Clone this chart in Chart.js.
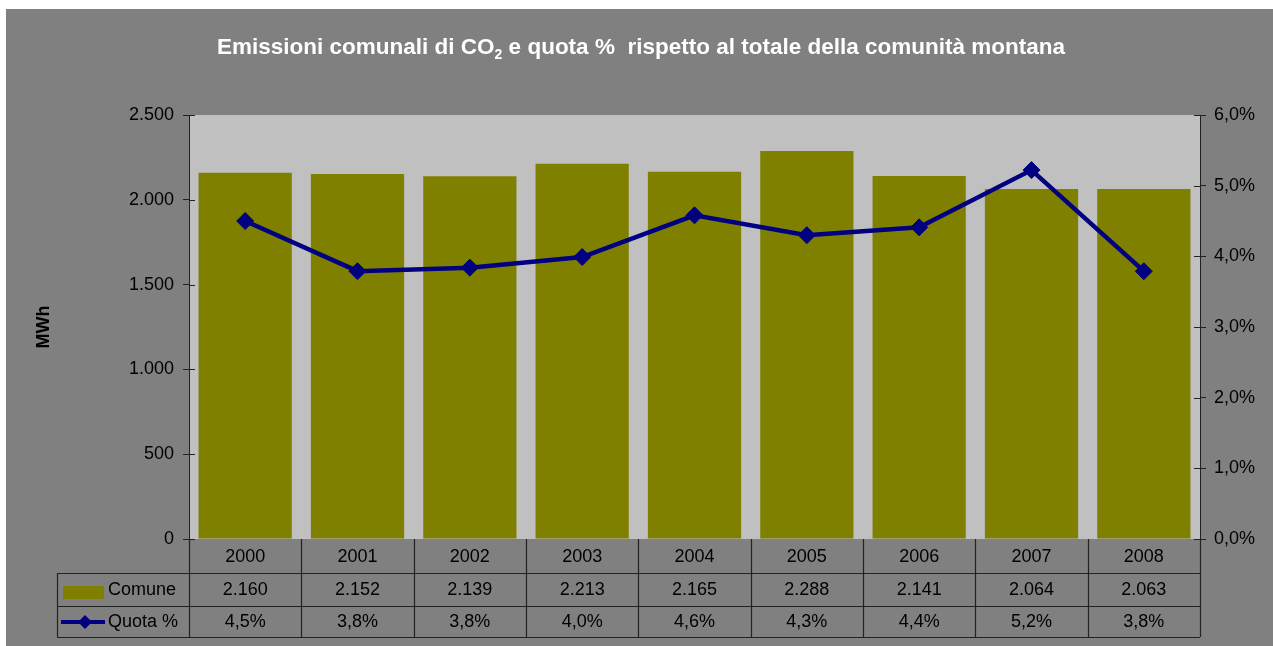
<!DOCTYPE html>
<html>
<head>
<meta charset="utf-8">
<script src="https://cdn.jsdelivr.net/npm/chart.js@4"></script>
<style>
  html, body { margin: 0; padding: 0; background: #fff; }
  #wrap { position: absolute; left: 6px; top: 9px; width: 1267px; height: 637px; }
  canvas { display: block; background: #808080; }
</style>
</head>
<body>
<div id="wrap"><canvas id="chart" width="1267" height="637"></canvas></div>
<script>
const years = ["2000", "2001", "2002", "2003", "2004", "2005", "2006", "2007", "2008"];
const comune = [2160, 2152, 2139, 2213, 2165, 2288, 2141, 2064, 2063];
const quota = [4.50, 3.79, 3.84, 3.99, 4.58, 4.30, 4.41, 5.22, 3.79];
const mwhTicks = [0, 500, 1000, 1500, 2000, 2500];
const pctTicks = [0, 1, 2, 3, 4, 5, 6];

const FONT = "'Liberation Sans', Arial, sans-serif";
const OLIVE = "#808000";
const NAVY = "#000080";
const LINE = "#222";

function fmtNum(v) {
    return String(v).replace(/\B(?=(\d{3})+(?!\d))/g, ".");
}
function fmtPct(v) {
    return v.toFixed(1).replace(".", ",") + "%";
}

const backdrop = {
    id: "backdrop",
    beforeDraw(chart) {
        const {ctx, chartArea: a} = chart;
        ctx.save();
        ctx.fillStyle = "#c0c0c0";
        ctx.fillRect(a.left, a.top, a.right - a.left, a.bottom - a.top);
        ctx.restore();
    }
};

const extras = {
    id: "extras",
    afterDraw(chart) {
        const {ctx, chartArea: a} = chart;
        const xs = chart.scales.x;
        ctx.save();

        // title with subscript
        const parts = [
            ["Emissioni comunali di CO", "bold 22.5px " + FONT, 0],
            ["2", "bold 14px " + FONT, 5],
            [" e quota %  rispetto al totale della comunità montana", "bold 22.5px " + FONT, 0]
        ];
        let total = 0;
        for (const p of parts) { ctx.font = p[1]; total += ctx.measureText(p[0]).width; }
        let tx = 635 - total / 2;
        ctx.fillStyle = "#fff";
        ctx.textBaseline = "alphabetic";
        ctx.textAlign = "left";
        for (const p of parts) {
            ctx.font = p[1];
            ctx.fillText(p[0], tx, 45 + p[2]);
            tx += ctx.measureText(p[0]).width;
        }

        // y axis title
        ctx.save();
        ctx.translate(38, (a.top + a.bottom) / 2);
        ctx.rotate(-Math.PI / 2);
        ctx.font = "bold 18px " + FONT;
        ctx.fillStyle = "#000";
        ctx.textAlign = "center";
        ctx.textBaseline = "middle";
        ctx.fillText("MWh", 0, 0);
        ctx.restore();

        // inner halves of tick marks
        ctx.strokeStyle = LINE;
        ctx.lineWidth = 1;
        const yl = chart.scales.y, yr = chart.scales.y1;
        ctx.beginPath();
        for (const t of yl.ticks) {
            const py = Math.round(yl.getPixelForValue(t.value)) + 0.5;
            ctx.moveTo(a.left, py); ctx.lineTo(a.left + 6, py);
        }
        for (const t of yr.ticks) {
            const py = Math.round(yr.getPixelForValue(t.value)) + 0.5;
            ctx.moveTo(a.right, py); ctx.lineTo(a.right - 6, py);
        }
        ctx.stroke();

        // data table
        const half = (xs.getPixelForValue(1) - xs.getPixelForValue(0)) / 2;
        const r0 = a.bottom, r1 = 564, r2 = 597, r3 = 628;
        const tableLeft = 51;
        ctx.strokeStyle = LINE;
        ctx.lineWidth = 1.2;
        ctx.beginPath();
        for (let i = 0; i <= years.length; i++) {
            const bx = Math.round(xs.getPixelForValue(i) - half) + 0.5;
            ctx.moveTo(bx, r0); ctx.lineTo(bx, r3);
        }
        ctx.moveTo(tableLeft + 0.5, r1); ctx.lineTo(tableLeft + 0.5, r3);
        for (const ry of [r1, r2, r3]) {
            ctx.moveTo(tableLeft, ry + 0.5); ctx.lineTo(a.right, ry + 0.5);
        }
        ctx.stroke();

        ctx.fillStyle = "#000";
        ctx.font = "18px " + FONT;
        ctx.textAlign = "center";
        ctx.textBaseline = "middle";
        years.forEach((y, i) => {
            const cx = xs.getPixelForValue(i);
            ctx.fillText(y, cx, (r0 + r1) / 2 + 1);
            ctx.fillText(fmtNum(comune[i]), cx, (r1 + r2) / 2 + 1);
            ctx.fillText(fmtPct(quota[i]), cx, (r2 + r3) / 2 + 1);
        });

        // legend keys
        ctx.fillStyle = OLIVE;
        ctx.fillRect(57, 577, 41, 13);
        ctx.strokeStyle = NAVY;
        ctx.lineWidth = 4;
        ctx.beginPath();
        ctx.moveTo(55, 613); ctx.lineTo(99, 613);
        ctx.stroke();
        ctx.fillStyle = NAVY;
        ctx.beginPath();
        ctx.moveTo(79, 606); ctx.lineTo(86, 613); ctx.lineTo(79, 620); ctx.lineTo(72, 613);
        ctx.closePath();
        ctx.fill();

        ctx.fillStyle = "#000";
        ctx.textAlign = "left";
        ctx.fillText("Comune", 102, (r1 + r2) / 2 + 1);
        ctx.fillText("Quota %", 102, (r2 + r3) / 2 + 1);

        ctx.restore();
    }
};

new Chart(document.getElementById("chart"), {
    type: "bar",
    data: {
        labels: years,
        datasets: [
            {
                type: "line",
                label: "Quota %",
                data: quota,
                yAxisID: "y1",
                borderColor: NAVY,
                backgroundColor: NAVY,
                borderWidth: 4.5,
                pointStyle: "rectRot",
                pointRadius: 8.5,
                pointBackgroundColor: NAVY,
                pointBorderColor: NAVY,
                pointBorderWidth: 1,
                tension: 0,
                order: 1
            },
            {
                label: "Comune",
                data: comune,
                yAxisID: "y",
                backgroundColor: OLIVE,
                barPercentage: 0.83,
                categoryPercentage: 1.0,
                order: 2
            }
        ]
    },
    options: {
        responsive: false,
        devicePixelRatio: 1,
        animation: false,
        layout: { padding: { top: 106, bottom: 107, left: 0, right: 0 } },
        plugins: {
            legend: { display: false },
            title: { display: false },
            tooltip: { enabled: false }
        },
        scales: {
            x: { display: false, offset: true },
            y: {
                position: "left",
                min: 0,
                max: 2500,
                afterBuildTicks: s => { s.ticks = mwhTicks.map(v => ({value: v})); },
                afterFit: s => { s.width = 183; },
                grid: { drawOnChartArea: false, tickLength: 6, color: LINE },
                border: { color: LINE, width: 1 },
                ticks: {
                    color: "#000",
                    font: { family: FONT, size: 18 },
                    padding: 9,
                    callback: v => fmtNum(v)
                }
            },
            y1: {
                position: "right",
                min: 0,
                max: 6,
                afterBuildTicks: s => { s.ticks = pctTicks.map(v => ({value: v})); },
                afterFit: s => { s.width = 73; },
                grid: { drawOnChartArea: false, tickLength: 6, color: LINE },
                border: { color: LINE, width: 1 },
                ticks: {
                    color: "#000",
                    font: { family: FONT, size: 18 },
                    padding: 8,
                    callback: v => fmtPct(v)
                }
            }
        }
    },
    plugins: [backdrop, extras]
});
</script>
</body>
</html>
